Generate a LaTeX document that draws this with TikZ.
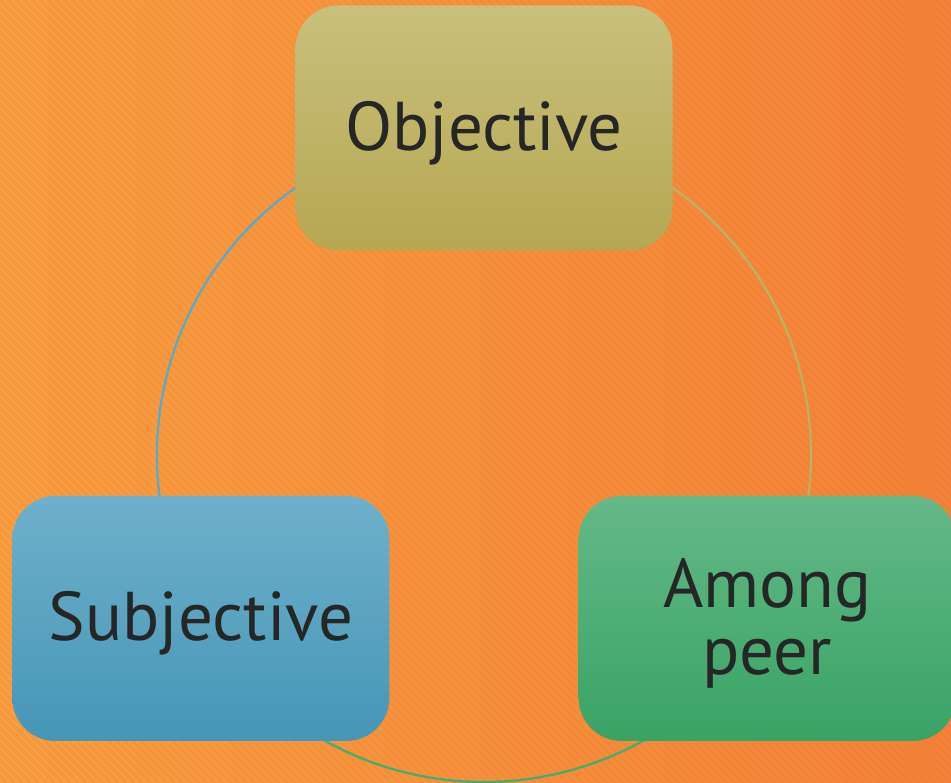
\documentclass[tikz,border=0pt]{standalone}
\usepackage{fontspec}
\setmainfont{PT Sans}
\newcommand{\boxtext}[1]{\raisebox{-14pt}[0pt][0pt]{\begin{tabular}{@{}c@{}}#1\end{tabular}}}
\begin{document}
\begin{tikzpicture}[x=1pt,y=1pt,
  box/.style={rounded corners=43pt, minimum width=377pt, minimum height=245pt,
    inner sep=0pt, text=txt, font=\fontsize{69}{67}\selectfont},
  ring/.style={line width=2.3pt}
]
\definecolor{txt}{HTML}{262626}
\definecolor{bgL}{HTML}{F9A142}
\definecolor{bgR}{HTML}{F4823A}
\definecolor{stripe}{HTML}{E8702A}
\definecolor{objT}{HTML}{C8C07C}
\definecolor{objB}{HTML}{B6A752}
\definecolor{subT}{HTML}{6FB0CB}
\definecolor{subB}{HTML}{4596B7}
\definecolor{peerT}{HTML}{64B988}
\definecolor{peerB}{HTML}{39A364}
\definecolor{arcBlue}{HTML}{5AA9C9}
\definecolor{arcOlive}{HTML}{BDB262}
\definecolor{arcGreen}{HTML}{44AD6C}

% background with faint diagonal stripes
\useasboundingbox (0,0) rectangle (951,783);
\shade[left color=bgL, right color=bgR] (0,0) rectangle (951,783);
\begin{scope}
  \clip (0,0) rectangle (951,783);
  \foreach \i in {-800,-792,...,960}
    \draw[stripe, opacity=0.18, line width=3pt] (\i,783) -- ++(783,-783);
\end{scope}

% the three stages, centred on one circle
\coordinate (ctr) at (484,328);
\path (ctr) ++(90:327) coordinate (pObj);
\path (ctr) ++(210:327) coordinate (pSub);
\path (ctr) ++(330:327) coordinate (pPeer);

% cycle arcs (drawn first, boxes cover their ends)
\draw[ring, arcBlue]  (pSub)  arc[start angle=210, end angle=90,  radius=327];
\draw[ring, arcOlive] (pObj)  arc[start angle=90,  end angle=-30, radius=327];
\draw[ring, arcGreen] (pPeer) arc[start angle=330, end angle=210, radius=327];

\node[box, top color=objT, bottom color=objB]   (obj)  at (pObj)  {\boxtext{Objective}};
\node[box, top color=subT, bottom color=subB]   (sub)  at (pSub)  {\boxtext{Subjective}};
\node[box, top color=peerT, bottom color=peerB] (peer) at (pPeer) {\boxtext{Among\\peer}};
\end{tikzpicture}
\end{document}
